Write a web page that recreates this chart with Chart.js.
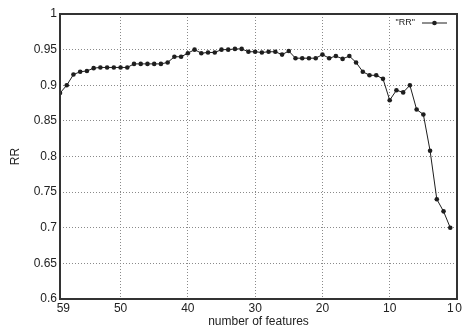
<!DOCTYPE html>
<html lang="en">
<head>
    <meta charset="UTF-8">
    <title>RR vs number of features</title>
    <style>
        body {
            margin: 0;
            background-color: #fff;
        }
        #chartBox {
            width: 464px;
            height: 331px;
        }
    </style>
    <script src="https://cdn.jsdelivr.net/npm/chart.js"></script>
</head>
<body>
    <div id="chartBox">
        <canvas id="rrChart" width="464" height="331"></canvas>
    </div>

    <script>
        // number of features kept, from all 59 down to 1
        const features = [59, 58, 57, 56, 55, 54, 53, 52, 51, 50,
                          49, 48, 47, 46, 45, 44, 43, 42, 41, 40,
                          39, 38, 37, 36, 35, 34, 33, 32, 31, 30,
                          29, 28, 27, 26, 25, 24, 23, 22, 21, 20,
                          19, 18, 17, 16, 15, 14, 13, 12, 11, 10,
                          9, 8, 7, 6, 5, 4, 3, 2, 1];
        const rr = [0.889, 0.900, 0.915, 0.919, 0.920, 0.924, 0.925, 0.925, 0.925, 0.925,
                    0.925, 0.930, 0.930, 0.930, 0.930, 0.930, 0.932, 0.940, 0.940, 0.945,
                    0.950, 0.945, 0.946, 0.946, 0.950, 0.950, 0.951, 0.951, 0.947, 0.947,
                    0.946, 0.947, 0.947, 0.943, 0.948, 0.938, 0.938, 0.938, 0.938, 0.943,
                    0.938, 0.941, 0.937, 0.941, 0.932, 0.919, 0.914, 0.914, 0.909, 0.879,
                    0.893, 0.890, 0.900, 0.866, 0.859, 0.808, 0.740, 0.723, 0.700];
        const xTicks = [59, 50, 40, 30, 20, 10, 1, 0];
        const yTicks = [0.6, 0.65, 0.7, 0.75, 0.8, 0.85, 0.9, 0.95, 1];

        const textColor = '#222';
        const gridColor = '#8a8a8a';

        // box around the plot area
        const frame = {
            id: 'frame',
            afterDatasetsDraw(chart) {
                const a = chart.chartArea;
                const ctx = chart.ctx;
                ctx.save();
                ctx.strokeStyle = '#333';
                ctx.lineWidth = 2;
                ctx.strokeRect(a.left, a.top, a.right - a.left, a.bottom - a.top);
                ctx.restore();
            }
        };

        // key in the top right corner: label first, then line sample with a marker
        const key = {
            id: 'key',
            afterDraw(chart) {
                const a = chart.chartArea;
                const ctx = chart.ctx;
                const ds = chart.data.datasets[0];
                const y = a.top + 9;
                const x1 = a.right - 10;
                const x0 = x1 - 25;
                ctx.save();
                ctx.fillStyle = textColor;
                ctx.font = '9px "Liberation Sans", Arial, sans-serif';
                ctx.textAlign = 'right';
                ctx.textBaseline = 'middle';
                ctx.fillText('"' + ds.label + '"', x0 - 7, y);
                ctx.strokeStyle = ds.borderColor;
                ctx.lineWidth = ds.borderWidth;
                ctx.beginPath();
                ctx.moveTo(x0, y);
                ctx.lineTo(x1, y);
                ctx.stroke();
                ctx.fillStyle = ds.pointBackgroundColor;
                ctx.beginPath();
                ctx.arc((x0 + x1) / 2, y, ds.pointRadius, 0, Math.PI * 2);
                ctx.fill();
                ctx.restore();
            }
        };

        const ctx = document.getElementById('rrChart').getContext('2d');
        const rrChart = new Chart(ctx, {
            type: 'line',
            data: {
                datasets: [{
                    label: 'RR',
                    data: features.map((f, i) => ({ x: f, y: rr[i] })),
                    borderColor: '#1e1e1e',
                    borderWidth: 1,
                    pointBackgroundColor: '#1e1e1e',
                    pointBorderWidth: 0,
                    pointRadius: 2.3,
                    tension: 0
                }]
            },
            options: {
                responsive: false,
                animation: false,
                devicePixelRatio: 1,
                layout: {
                    padding: { top: 14, right: 6, left: 0, bottom: 0 }
                },
                scales: {
                    x: {
                        type: 'linear',
                        reverse: true,
                        min: 0,
                        max: 59,
                        afterBuildTicks: (scale) => {
                            scale.ticks = xTicks.map(v => ({ value: v }));
                        },
                        afterFit: (scale) => {
                            scale.height = 32;
                        },
                        grid: {
                            drawTicks: false,
                            color: (c) => (c.tick && [50, 40, 30, 20, 10].includes(c.tick.value)) ? gridColor : 'transparent'
                        },
                        border: { display: false, dash: [1, 2] },
                        ticks: {
                            autoSkip: false,
                            maxRotation: 0,
                            padding: 2,
                            color: textColor,
                            font: { family: '"Liberation Sans", Arial, sans-serif', size: 12 },
                            // end labels are nudged inward/outward so "1" and "0" don't run together
                            callback: (v) => v === 59 ? '  59' : v === 0 ? ' 0' : String(v)
                        },
                        title: {
                            display: true,
                            text: 'number of features',
                            color: textColor,
                            padding: { top: 0, bottom: 2 },
                            font: { family: '"Liberation Sans", Arial, sans-serif', size: 12 }
                        }
                    },
                    y: {
                        min: 0.6,
                        max: 1,
                        afterBuildTicks: (scale) => {
                            scale.ticks = yTicks.map(v => ({ value: v }));
                        },
                        afterFit: (scale) => {
                            scale.width = 60;
                        },
                        grid: {
                            drawTicks: false,
                            color: (c) => (c.tick && c.tick.value > 0.61 && c.tick.value < 0.99) ? gridColor : 'transparent'
                        },
                        border: { display: false, dash: [1, 2] },
                        ticks: {
                            padding: 3,
                            color: textColor,
                            font: { family: '"Liberation Sans", Arial, sans-serif', size: 12 },
                            callback: (v) => String(+v.toFixed(2))
                        },
                        title: {
                            display: true,
                            text: 'RR',
                            color: textColor,
                            padding: { top: 8, bottom: 0 },
                            font: { family: '"Liberation Sans", Arial, sans-serif', size: 12 }
                        }
                    }
                },
                plugins: {
                    legend: { display: false },
                    tooltip: { enabled: false }
                }
            },
            plugins: [frame, key]
        });
    </script>
</body>
</html>
